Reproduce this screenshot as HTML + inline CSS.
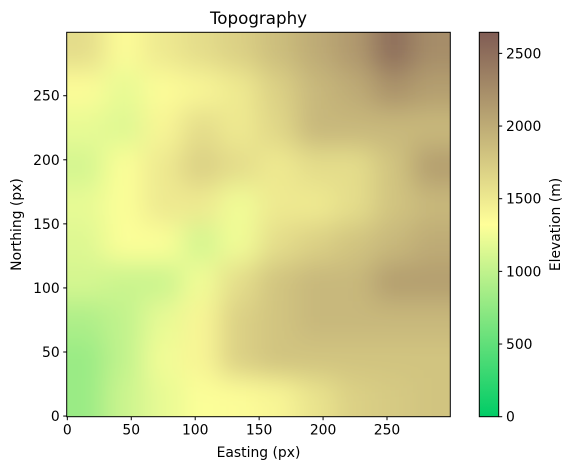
<!DOCTYPE html>
<html><head><meta charset="utf-8"><style>
body{margin:0;background:#fff;}
svg{display:block;font-family:"DejaVu Sans","Liberation Sans",sans-serif;}
</style></head><body>
<svg id="chart" width="572" height="470" viewBox="0 0 572 470">
<defs>
<filter id="blur" filterUnits="userSpaceOnUse" x="0" y="-20" width="520" height="480">
<feGaussianBlur stdDeviation="13"/>
</filter>
<clipPath id="clip"><rect x="66.7" y="32.3" width="383.6" height="384.4"/></clipPath>
<linearGradient id="cbgrad" x1="0" y1="1" x2="0" y2="0">
<stop offset="0" stop-color="rgb(0,204,102)"/>
<stop offset="0.5" stop-color="rgb(255,255,153)"/>
<stop offset="1" stop-color="rgb(128,92,84)"/>
</linearGradient>
</defs>
<text x="258.5" y="24" text-anchor="middle" font-size="16.7">Topography</text>
<g id="heat" clip-path="url(#clip)"><g id="cells" filter="url(#blur)"></g></g>
<rect x="66.7" y="32.3" width="383.6" height="384.4" fill="none" stroke="#000" stroke-width="1"/>
<g id="xticks"></g>
<g id="yticks"></g>
<text x="258.5" y="457" text-anchor="middle" font-size="13.9">Easting (px)</text>
<text transform="translate(21,224.5) rotate(-90)" text-anchor="middle" font-size="13.9">Northing (px)</text>
<rect x="479.3" y="32.3" width="19.4" height="384.4" fill="url(#cbgrad)" stroke="#000" stroke-width="1"/>
<g id="cticks"></g>
<text transform="translate(560,224.5) rotate(-90)" text-anchor="middle" font-size="13.9">Elevation (m)</text>
</svg>
<script>
const xTickValues=[0,50,100,150,200,250];
const yTickValues=[0,50,100,150,200,250];
const cbarTickValues=[0,500,1000,1500,2000,2500];
const vmin=0, vmax=2645;
const gridStep=30;
// rows from top (northing 270-300) to bottom (0-30), columns easting 0-30 ... 270-300
const elevRow9=[1600,1350,1500,1600,1700,1850,2000,2150,2500,2250];
const elevRow8=[1350,1200,1350,1400,1500,1700,1900,2000,2200,2100];
const elevRow7=[1200,1150,1400,1600,1500,1650,1900,1900,1900,1900];
const elevRow6=[1100,1300,1500,1700,1600,1500,1600,1600,1800,2100];
const elevRow5=[1200,1300,1500,1500,1250,1500,1500,1600,1800,1900];
const elevRow4=[1150,1300,1300,1100,1250,1600,1700,1800,1900,2000];
const elevRow3=[1100,1050,1050,1250,1600,1800,1900,1900,2100,2100];
const elevRow2=[900,1000,1200,1400,1700,1800,1900,1900,1900,1900];
const elevRow1=[800,1000,1250,1400,1700,1800,1800,1800,1800,1800];
const elevRow0=[800,1050,1200,1300,1350,1400,1550,1700,1750,1800];
const elevation=[elevRow9,elevRow8,elevRow7,elevRow6,elevRow5,elevRow4,elevRow3,elevRow2,elevRow1,elevRow0];

const NS="http://www.w3.org/2000/svg";
const X0=66.7,X1=450.3,Y0=416.7,Y1=32.3;
const xs=v=>X0+(v+0.5)*(X1-X0)/300;
const ys=v=>Y0-(v+0.5)*(Y0-Y1)/300;
const cs=v=>Y0-(v-vmin)/(vmax-vmin)*(Y0-Y1);
function cmap(v){
  let t=Math.max(0,Math.min(1,(v-vmin)/(vmax-vmin)));
  const a=[0,204,102],b=[255,255,153],c=[128,92,84];
  let p,q,u;
  if(t<0.5){p=a;q=b;u=t/0.5;}else{p=b;q=c;u=(t-0.5)/0.5;}
  return `rgb(${Math.round(p[0]+(q[0]-p[0])*u)},${Math.round(p[1]+(q[1]-p[1])*u)},${Math.round(p[2]+(q[2]-p[2])*u)})`;
}
function mk(tag,attrs,parent){const e=document.createElementNS(NS,tag);for(const k in attrs)e.setAttribute(k,attrs[k]);parent.appendChild(e);return e;}
const cells=document.getElementById('cells');
const nRows=elevation.length;
const PAD=50;
elevation.forEach((row,ri)=>{
  const north=(nRows-1-ri)*gridStep;
  const nCols=row.length;
  row.forEach((v,ci)=>{
    const east=ci*gridStep;
    let x=xs(east-0.5), x2=xs(east+gridStep-0.5);
    let y=ys(north+gridStep-0.5), y2=ys(north-0.5);
    if(ci===0) x-=PAD;
    if(ci===nCols-1) x2+=PAD;
    if(ri===0) y-=PAD;
    if(ri===nRows-1) y2+=PAD;
    const r=mk('rect',{x:x-0.3,y:y-0.3,width:x2-x+0.6,height:y2-y+0.6,fill:cmap(v)},cells);
    
    
  });
});
const xt=document.getElementById('xticks');
xTickValues.forEach(v=>{
  const x=xs(v);
  const l=mk('line',{x1:x,x2:x,y1:Y0,y2:Y0+3.5,stroke:'#000'},xt);
  
  
  const t=mk('text',{x:x,y:Y0+18,'text-anchor':'middle','font-size':'13.9'},xt);
  t.textContent=v;
  
  
});
const yt=document.getElementById('yticks');
yTickValues.forEach(v=>{
  const y=ys(v);
  const l=mk('line',{x1:X0-3.5,x2:X0,y1:y,y2:y,stroke:'#000'},yt);
  
  
  const t=mk('text',{x:X0-7,y:y+5,'text-anchor':'end','font-size':'13.9'},yt);
  t.textContent=v;
  
  
});
const ct=document.getElementById('cticks');
cbarTickValues.forEach(v=>{
  const y=cs(v);
  const l=mk('line',{x1:498.7,x2:502.2,y1:y,y2:y,stroke:'#000'},ct);
  
  
  const t=mk('text',{x:506,y:y+5,'text-anchor':'start','font-size':'13.9'},ct);
  t.textContent=v;
  
  
});
</script>
</body></html>
